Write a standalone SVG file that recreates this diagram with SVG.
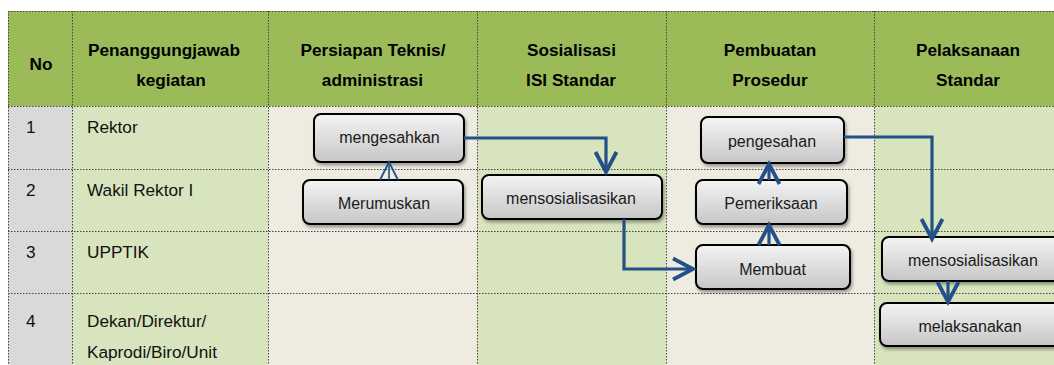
<svg xmlns="http://www.w3.org/2000/svg" width="1054" height="365" viewBox="0 0 1054 365">
<defs>
<style>
.hd{font-family:"Liberation Sans",Arial,sans-serif;font-weight:bold;font-size:17.2px;fill:#000;text-anchor:middle}
.rw{font-family:"Liberation Sans",Arial,sans-serif;font-size:17.2px;fill:#111}
.nt{font-family:"Liberation Sans",Arial,sans-serif;font-size:16px;fill:#1a1a1a;text-anchor:middle}
.grid{stroke:#444;stroke-width:1;stroke-dasharray:1.5,1.5;fill:none}
.box{fill:url(#g);stroke:#000;stroke-width:2;filter:url(#sh)}
.con{fill:none;stroke:#24508a;stroke-width:3.2;stroke-linejoin:miter}
.thin{fill:none;stroke:#24508a;stroke-width:1.6}
</style>
<linearGradient id="g" x1="0" y1="0" x2="0" y2="1">
<stop offset="0" stop-color="#f4f4f4"/>
<stop offset="1" stop-color="#c6c6c6"/>
</linearGradient>
<filter id="sh" x="-10%" y="-20%" width="125%" height="150%">
<feDropShadow dx="1.5" dy="2.5" stdDeviation="1.6" flood-color="#000" flood-opacity="0.35"/>
</filter>
<marker id="ah" markerUnits="userSpaceOnUse" viewBox="-24 -14 28 28" refX="0" refY="0" markerWidth="28" markerHeight="28" orient="auto" overflow="visible">
<path d="M-20,-10.5 L0,0 L-20,10.5" fill="none" stroke="#24508a" stroke-width="3.8"/>
</marker>
<marker id="at" markerUnits="userSpaceOnUse" viewBox="-24 -14 28 28" refX="0" refY="0" markerWidth="28" markerHeight="28" orient="auto" overflow="visible">
<path d="M-18,-9 L0,0 L-18,9" fill="none" stroke="#24508a" stroke-width="1.8"/>
</marker>
</defs>
<rect width="1054" height="365" fill="#fff"/>
<g id="table">
<rect x="8" y="11" width="1046" height="95" fill="#9bbb59"/>
<rect x="8" y="106" width="64" height="259" fill="#d9d9d9"/>
<rect x="72" y="106" width="196" height="259" fill="#d7e4bd"/>
<rect x="268" y="106" width="209" height="259" fill="#eeece1"/>
<rect x="477" y="106" width="189" height="259" fill="#d7e4bd"/>
<rect x="666" y="106" width="208" height="259" fill="#eeece1"/>
<rect x="874" y="106" width="180" height="259" fill="#d7e4bd"/>
<path class="grid" d="M8,11.5H1054M8,106.5H1054M8,169.5H1054M8,231.5H1054M8,293.5H1054M8.5,11V365M72.5,11V365M268.5,11V365M477.5,11V365M666.5,11V365M874.5,11V365"/>
<text class="hd" x="41" y="70">No</text>
<text class="hd" x="164" y="56">Penanggungjawab</text>
<text class="hd" x="171" y="86">kegiatan</text>
<text class="hd" x="373" y="56">Persiapan Teknis/</text>
<text class="hd" x="372.5" y="86">administrasi</text>
<text class="hd" x="571.5" y="56">Sosialisasi</text>
<text class="hd" x="571" y="86">ISI Standar</text>
<text class="hd" x="770" y="56">Pembuatan</text>
<text class="hd" x="770" y="86">Prosedur</text>
<text class="hd" x="968" y="56">Pelaksanaan</text>
<text class="hd" x="968" y="86">Standar</text>
<text class="rw" x="26" y="133">1</text>
<text class="rw" x="87" y="133">Rektor</text>
<text class="rw" x="26" y="196">2</text>
<text class="rw" x="87" y="196">Wakil Rektor I</text>
<text class="rw" x="26" y="258">3</text>
<text class="rw" x="87" y="258">UPPTIK</text>
<text class="rw" x="26" y="327">4</text>
<text class="rw" x="87" y="327">Dekan/Direktur/</text>
<text class="rw" x="87" y="358">Kaprodi/Biro/Unit</text>
</g>
<g id="n-mengesahkan"><rect class="box" x="314" y="114" width="150" height="48" rx="7"/><text class="nt" x="389.5" y="143">mengesahkan</text></g>
<g id="n-merumuskan"><rect class="box" x="303" y="180" width="160" height="44" rx="7"/><text class="nt" x="384" y="209" textLength="92" lengthAdjust="spacingAndGlyphs">Merumuskan</text></g>
<g id="n-mensosialisasikan1"><rect class="box" x="482" y="175" width="180" height="44" rx="7"/><text class="nt" x="571" y="204">mensosialisasikan</text></g>
<g id="n-pengesahan"><rect class="box" x="701" y="117" width="143" height="46" rx="7"/><text class="nt" x="772" y="147">pengesahan</text></g>
<g id="n-pemeriksaan"><rect class="box" x="696" y="180" width="151" height="44" rx="7"/><text class="nt" x="771" y="209">Pemeriksaan</text></g>
<g id="n-membuat"><rect class="box" x="696" y="245" width="154" height="44" rx="7"/><text class="nt" x="772.5" y="275">Membuat</text></g>
<g id="n-mensosialisasikan2"><rect class="box" x="882" y="237" width="184" height="44" rx="7"/><text class="nt" x="973" y="266">mensosialisasikan</text></g>
<g id="n-melaksanakan"><rect class="box" x="880" y="303" width="182" height="43" rx="7"/><text class="nt" x="970" y="332">melaksanakan</text></g>
<g id="connectors">
<polyline class="con" points="464,138 606,138 606,172" marker-end="url(#ah)"/>
<line class="thin" x1="389" y1="180" x2="389" y2="162" marker-end="url(#at)"/>
<polyline class="con" points="624,219 624,269 693,269" marker-end="url(#ah)"/>
<line class="con" x1="769" y1="245" x2="769" y2="225" marker-end="url(#ah)"/>
<line class="con" x1="769" y1="180" x2="769" y2="164" marker-end="url(#ah)"/>
<polyline class="con" points="844,137 932,137 932,239" marker-end="url(#ah)"/>
<line class="con" x1="948" y1="281" x2="948" y2="302" marker-end="url(#ah)"/>
</g>
</svg>
